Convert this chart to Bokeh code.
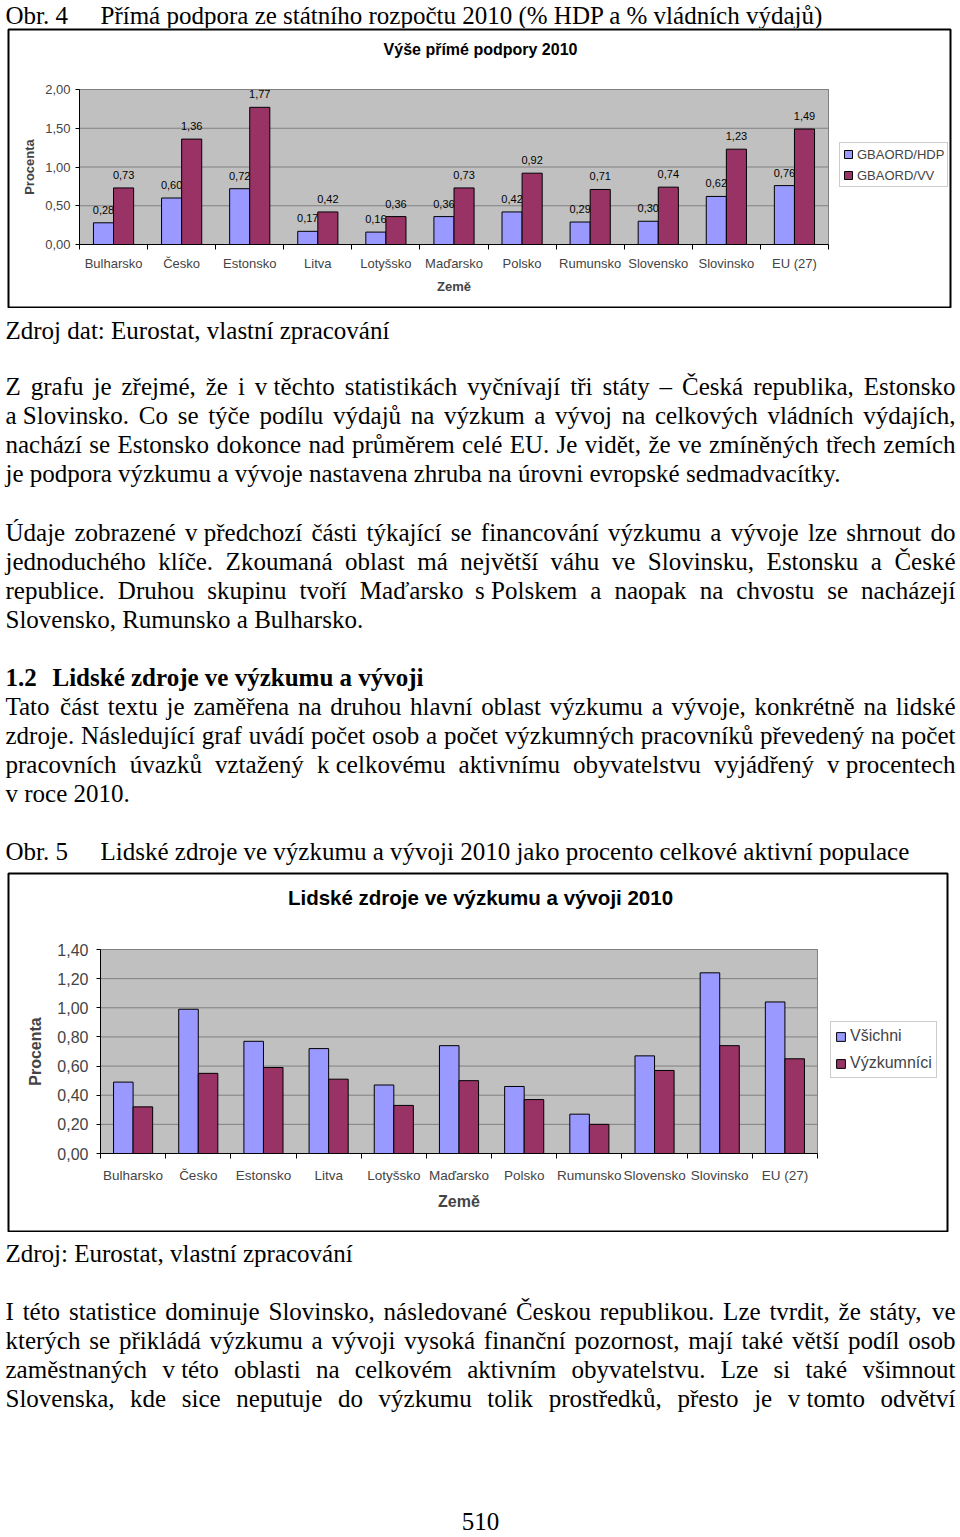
import unicodedata
from bokeh.plotting import figure
from bokeh.models import (ColumnDataSource, Range1d, FixedTicker, CustomJSTickFormatter,
                          Legend, LegendItem, Label, LinearAxis)
from bokeh.layouts import column
from bokeh.transform import dodge
from bokeh.core.properties import value
from bokeh.embed import file_html
from bokeh.resources import INLINE

# ---------------- data ----------------
countries = ["Bulharsko", "Česko", "Estonsko", "Litva", "Lotyšsko", "Maďarsko",
             "Polsko", "Rumunsko", "Slovensko", "Slovinsko", "EU (27)"]

# Obr. 4 - direct support 2010
gbaord_hdp = [0.28, 0.60, 0.72, 0.17, 0.16, 0.36, 0.42, 0.29, 0.30, 0.62, 0.76]
gbaord_vv = [0.73, 1.36, 1.77, 0.42, 0.36, 0.73, 0.92, 0.71, 0.74, 1.23, 1.49]
chart1_series = ["GBAORD/HDP", "GBAORD/VV"]
chart1_yticks = [0.0, 0.5, 1.0, 1.5, 2.0]
chart1_ylabels = ["0,00", "0,50", "1,00", "1,50", "2,00"]

# Obr. 5 - human resources 2010
vsichni = [0.49, 0.99, 0.77, 0.72, 0.47, 0.74, 0.46, 0.27, 0.67, 1.24, 1.04]
vyzkumnici = [0.32, 0.55, 0.59, 0.51, 0.33, 0.50, 0.37, 0.20, 0.57, 0.74, 0.65]
chart2_series = ["Všichni", "Výzkumníci"]
chart2_yticks = [0.0, 0.2, 0.4, 0.6, 0.8, 1.0, 1.2, 1.4]
chart2_ylabels = ["0,00", "0,20", "0,40", "0,60", "0,80", "1,00", "1,20", "1,40"]

BLUE = "#9999FF"
PURPLE = "#993366"
SANS = "Liberation Sans"
SERIF = "Liberation Serif"


def fmt(v):
    return f"{v:.2f}".replace(".", ",")


def no_align(p):
    try:
        p.frame_align = False
    except Exception:
        pass


# ---------------- chart builder ----------------
def make_chart(T, H, bx0, bx1, area, vals_a, vals_b, names, yticks, ylabels, ymax,
               title, title_xy, title_size, tick_size, cat_size, alabel_size, legend_size,
               y_std, yal_std, x_std, xal_std, bar_w, legend_box, legend_geom, show_values):
    n = len(countries)
    by0, by1 = T + 1, T + H - 1          # page y of the chart box (frame)
    px0, px1, py0, py1 = area            # page position of the plot area
    sx = (px1 - px0) / n
    sy = (py1 - py0) / ymax
    xr = Range1d(-(px0 - bx0) / sx, n + (bx1 - px1) / sx)
    yr = Range1d(-(by1 - py1) / sy, ymax + (py0 - by0) / sy)

    p = figure(width=960, height=H, x_range=xr, y_range=yr, title=None,
               output_backend="svg", toolbar_location=None,
               x_axis_location=None, y_axis_location=None,
               min_border_left=bx0, min_border_right=960 - bx1,
               min_border_top=1, min_border_bottom=1)
    no_align(p)
    p.grid.visible = False
    p.background_fill_color = "white"
    p.border_fill_color = "white"
    p.outline_line_color = "black"
    p.outline_line_width = 2

    # plot area background and grid lines
    p.quad(left=0, right=n, bottom=0, top=ymax, fill_color="#C0C0C0",
           line_color="#808080", line_width=1, level="image")
    p.segment(x0=[0] * len(yticks), x1=[n] * len(yticks), y0=yticks, y1=yticks,
              line_color="#808080", line_width=1, level="underlay")

    centers = [i + 0.5 for i in range(n)]
    bounds = [float(i) for i in range(n + 1)]
    src = ColumnDataSource(dict(x=centers, a=vals_a, b=vals_b,
                                la=[fmt(v) for v in vals_a], lb=[fmt(v) for v in vals_b]))

    # x axis (fixed at y = 0)
    xa = LinearAxis(fixed_location=0, bounds=(0, n))
    xa.ticker = FixedTicker(ticks=centers, minor_ticks=bounds)
    xa.formatter = CustomJSTickFormatter(args=dict(catnames=countries),
                                         code="return catnames[Math.floor(tick)];")
    xa.major_tick_line_color = None
    xa.major_tick_out = 0
    xa.major_tick_in = 0
    xa.minor_tick_out = 5
    xa.minor_tick_in = 0
    xa.minor_tick_line_color = "black"
    xa.axis_line_color = "black"
    xa.major_label_text_font = SANS
    xa.major_label_text_font_size = f"{cat_size}px"
    xa.major_label_standoff = x_std
    xa.axis_label = "Země"
    xa.axis_label_text_font = SANS
    xa.axis_label_text_font_style = "bold"
    xa.axis_label_text_font_size = f"{alabel_size}px"
    xa.axis_label_standoff = xal_std
    p.add_layout(xa, "below")

    # y axis (fixed at x = 0)
    ya = LinearAxis(fixed_location=0, bounds=(0, ymax))
    ya.ticker = FixedTicker(ticks=yticks)
    ya.formatter = CustomJSTickFormatter(
        args=dict(yt=yticks, yl=ylabels),
        code="const i = yt.findIndex(t => Math.abs(t - tick) < 1e-9); return i < 0 ? '' : yl[i];")
    ya.major_tick_out = 4
    ya.major_tick_in = 0
    ya.minor_tick_line_color = None
    ya.axis_line_color = "black"
    ya.major_label_text_font = SANS
    ya.major_label_text_font_size = f"{tick_size}px"
    ya.major_label_standoff = y_std
    ya.axis_label = "Procenta"
    ya.axis_label_text_font = SANS
    ya.axis_label_text_font_style = "bold"
    ya.axis_label_text_font_size = f"{alabel_size}px"
    ya.axis_label_standoff = yal_std
    p.add_layout(ya, "left")

    # bars and value labels
    ra = p.vbar(x=dodge("x", -bar_w / 2), top="a", width=bar_w, source=src,
                fill_color=BLUE, line_color="black", line_width=1)
    if show_values:
        p.text(x=dodge("x", -bar_w / 2), y="a", text="la", source=src,
               text_font=value(SANS), text_font_size="11px", text_align="center",
               text_baseline="middle", y_offset=-13, text_color="black")
    rb = p.vbar(x=dodge("x", bar_w / 2), top="b", width=bar_w, source=src,
                fill_color=PURPLE, line_color="black", line_width=1)
    if show_values:
        p.text(x=dodge("x", bar_w / 2), y="b", text="lb", source=src,
               text_font=value(SANS), text_font_size="11px", text_align="center",
               text_baseline="middle", y_offset=-13, text_color="black")

    # legend (inside the chart box)
    lh, sp, pad, gw = legend_geom
    lx, lby = legend_box
    legend = Legend(items=[LegendItem(label=names[0], renderers=[ra]),
                           LegendItem(label=names[1], renderers=[rb])],
                    location=(lx - bx0, by1 - lby), orientation="vertical")
    legend.label_text_font = SANS
    legend.label_text_font_size = f"{legend_size}px"
    legend.label_height = lh
    legend.spacing = sp
    legend.padding = pad
    legend.margin = 0
    legend.glyph_width = gw
    legend.glyph_height = gw
    legend.label_standoff = 4
    legend.border_line_color = "#999999"
    legend.border_line_width = 1
    legend.background_fill_color = "white"
    legend.background_fill_alpha = 1
    p.add_layout(legend)

    # chart title
    tx, ty = title_xy
    p.add_layout(Label(x=tx - bx0, y=by1 - ty, x_units="screen", y_units="screen",
                       text=title, text_font=SANS, text_font_style="bold",
                       text_font_size=f"{title_size}px", text_align="center",
                       text_baseline="middle", text_color="black"))
    return p


# ---------------- text helpers ----------------
TIMES_W = {' ': 250, '\u00a0': 250, '!': 333, '%': 833, '(': 333, ')': 333, ',': 250, '-': 333,
           '.': 250, '/': 278, ':': 278, ';': 278, '?': 444, '–': 500,
           'A': 722, 'B': 667, 'C': 667, 'D': 722, 'E': 611, 'F': 556, 'G': 722, 'H': 722, 'I': 333,
           'J': 389, 'K': 722, 'L': 611, 'M': 889, 'N': 722, 'O': 722, 'P': 556, 'Q': 722, 'R': 667,
           'S': 556, 'T': 611, 'U': 722, 'V': 722, 'W': 944, 'X': 722, 'Y': 722, 'Z': 611,
           'a': 444, 'b': 500, 'c': 444, 'd': 500, 'e': 444, 'f': 333, 'g': 500, 'h': 500, 'i': 278,
           'j': 278, 'k': 500, 'l': 278, 'm': 778, 'n': 500, 'o': 500, 'p': 500, 'q': 500, 'r': 333,
           's': 389, 't': 278, 'u': 500, 'v': 500, 'w': 722, 'x': 500, 'y': 500, 'z': 444}
for _d in "0123456789":
    TIMES_W[_d] = 500
SPECIAL_W = {'ď': 588, 'ť': 326}

FS = 25


def text_width(s, size=FS):
    w = 0
    for ch in s:
        if ch in SPECIAL_W:
            w += SPECIAL_W[ch]
            continue
        base = unicodedata.normalize("NFD", ch)[0]
        w += TIMES_W.get(base, 500)
    return w * size / 1000.0


def layout_line(line, y, justify, x0=5, x1=955):
    words = line.split(" ")
    widths = [text_width(w) for w in words]
    if justify and len(words) > 1:
        gap = (x1 - x0 - sum(widths)) / (len(words) - 1)
    else:
        gap = text_width(" ")
    xs, x = [], x0
    for w in widths:
        xs.append(x)
        x += w + gap
    return words, xs, [y] * len(words)


def text_fig(y0, y1):
    p = figure(width=960, height=y1 - y0, x_range=Range1d(0, 960), y_range=Range1d(y1, y0),
               output_backend="svg", toolbar_location=None, min_border=0,
               min_border_left=0, min_border_right=0, min_border_top=0, min_border_bottom=0,
               x_axis_location=None, y_axis_location=None, title=None)
    no_align(p)
    p.outline_line_color = None
    p.grid.visible = False
    p.background_fill_color = "white"
    p.border_fill_color = "white"
    return p


def add_texts(p, items, bold=False, align="left"):
    src = ColumnDataSource(dict(x=[i[0] for i in items], y=[i[1] for i in items],
                                t=[i[2] for i in items]))
    p.text(x="x", y="y", text="t", source=src, text_font=value(SERIF),
           text_font_size=f"{FS}px", text_baseline="alphabetic", text_align=align,
           text_color="black", text_font_style="bold" if bold else "normal")


def add_paragraph(items, lines, y_first, last_justified=False):
    for k, line in enumerate(lines):
        justify = last_justified or k < len(lines) - 1
        words, xs, ys = layout_line(line, y_first + 29 * k, justify)
        items.extend(zip(xs, ys, words))


NB = "\u00a0"
caption4 = "Přímá podpora ze státního rozpočtu 2010 (% HDP a % vládních výdajů)"
source4 = "Zdroj dat: Eurostat, vlastní zpracování"
para1 = ["Z grafu je zřejmé, že i v" + NB + "těchto statistikách vyčnívají tři státy – Česká republika, Estonsko",
         "a" + NB + "Slovinsko. Co se týče podílu výdajů na výzkum a vývoj na celkových vládních výdajích,",
         "nachází se Estonsko dokonce nad průměrem celé EU. Je vidět, že ve zmíněných třech zemích",
         "je podpora výzkumu a vývoje nastavena zhruba na úrovni evropské sedmadvacítky."]
para2 = ["Údaje zobrazené v" + NB + "předchozí části týkající se financování výzkumu a vývoje lze shrnout do",
         "jednoduchého klíče. Zkoumaná oblast má největší váhu ve Slovinsku, Estonsku a České",
         "republice. Druhou skupinu tvoří Maďarsko s" + NB + "Polskem a naopak na chvostu se nacházejí",
         "Slovensko, Rumunsko a Bulharsko."]
heading_num = "1.2"
heading_txt = "Lidské zdroje ve výzkumu a vývoji"
para3 = ["Tato část textu je zaměřena na druhou hlavní oblast výzkumu a vývoje, konkrétně na lidské",
         "zdroje. Následující graf uvádí počet osob a počet výzkumných pracovníků převedený na počet",
         "pracovních úvazků vztažený k" + NB + "celkovému aktivnímu obyvatelstvu vyjádřený v" + NB + "procentech",
         "v" + NB + "roce 2010."]
caption5 = "Lidské zdroje ve výzkumu a vývoji 2010 jako procento celkové aktivní populace"
source5 = "Zdroj: Eurostat, vlastní zpracování"
para4 = ["I této statistice dominuje Slovinsko, následované Českou republikou. Lze tvrdit, že státy, ve",
         "kterých se přikládá výzkumu a vývoji vysoká finanční pozornost, mají také větší podíl osob",
         "zaměstnaných v" + NB + "této oblasti na celkovém aktivním obyvatelstvu. Lze si také všimnout",
         "Slovenska, kde sice neputuje do výzkumu tolik prostředků, přesto je v" + NB + "tomto odvětví"]
page_no = "510"

# ---------------- header ----------------
hdr = text_fig(0, 28)
add_texts(hdr, [(5, 15, "Obr. 4"), (100, 15, caption4)])

# ---------------- chart 1 ----------------
ch1 = make_chart(T=28, H=280, bx0=8, bx1=950, area=(79, 828, 89, 244),
                 vals_a=gbaord_hdp, vals_b=gbaord_vv, names=chart1_series,
                 yticks=chart1_yticks, ylabels=chart1_ylabels, ymax=2.0,
                 title="Výše přímé podpory 2010", title_xy=(480, 49), title_size=16,
                 tick_size=13, cat_size=13, alabel_size=13, legend_size=13,
                 y_std=5, yal_std=5, x_std=6, xal_std=5, bar_w=0.295,
                 legend_box=(839, 187), legend_geom=(16, 5, 3, 10), show_values=True)

# ---------------- middle text ----------------
mid = text_fig(308, 872)
items = [(5, 330, source4)]
add_paragraph(items, para1, 386)
add_paragraph(items, para2, 532)
add_paragraph(items, para3, 706)
items += [(5, 851, "Obr. 5"), (100, 851, caption5)]
add_texts(mid, items)
add_texts(mid, [(5, 677, heading_num), (52, 677, heading_txt)], bold=True)

# ---------------- chart 2 ----------------
ch2 = make_chart(T=872, H=360, bx0=8, bx1=947, area=(100, 817, 949, 1153),
                 vals_a=vsichni, vals_b=vyzkumnici, names=chart2_series,
                 yticks=chart2_yticks, ylabels=chart2_ylabels, ymax=1.4,
                 title="Lidské zdroje ve výzkumu a vývoji 2010", title_xy=(480, 897),
                 title_size=20.5, tick_size=16, cat_size=13.5, alabel_size=16, legend_size=16,
                 y_std=8, yal_std=10, x_std=9, xal_std=7, bar_w=0.3,
                 legend_box=(830, 1078), legend_geom=(20, 7, 4, 11), show_values=False)

# ---------------- bottom text ----------------
bot = text_fig(1232, 1537)
items = [(5, 1253, source5)]
add_paragraph(items, para4, 1311, last_justified=True)
add_texts(bot, items)
add_texts(bot, [(480, 1521, page_no)], align="center")

page = column(hdr, ch1, mid, ch2, bot, spacing=0)
open("out.html", "w").write(file_html(page, INLINE))
